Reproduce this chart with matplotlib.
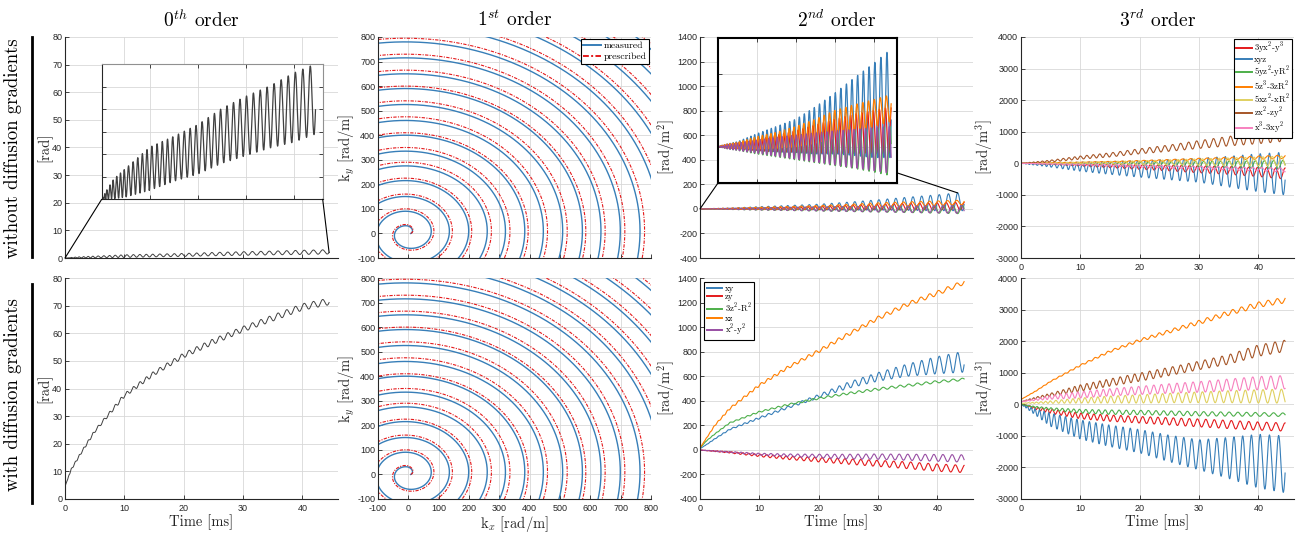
import numpy as np
import matplotlib
matplotlib.use("Agg")
import matplotlib.pyplot as plt
from matplotlib.patches import ConnectionPatch
from matplotlib.lines import Line2D

plt.rcParams['mathtext.fontset'] = 'cm'
plt.rcParams['font.family'] = 'Liberation Sans'
plt.rcParams['axes.unicode_minus'] = False

T_ENV = [0, 1, 2.5, 5, 10, 15, 20, 25, 30, 35, 40, 44.5]
# counted oscillation cycles up to those times
CYCLES = [0, 2.4, 4.7, 7.9, 13.1, 17.7, 21.8, 25.7, 29.4, 32.9, 36.3, 39.2]

# ---- 0th order (mid line and half peak-to-peak), [rad]
b0_off_mid = [0, 0.1, 0.23, 0.37, 0.68, 0.9, 1.11, 1.41, 1.63, 1.83, 2.04, 2.23]
b0_off_amp = [0, 0.1, 0.22, 0.32, 0.48, 0.5, 0.55, 0.61, 0.66, 0.69, 0.77, 0.78]
b0_on_mid = [4.5, 10.5, 16, 24.5, 37.5, 45.5, 52, 57, 61.5, 65.5, 69.5, 71.5]
b0_on_amp = [0, 0.3, 0.4, 0.5, 0.7, 0.8, 0.9, 1.0, 1.0, 1.1, 1.2, 1.2]

# ---- 1st order: spiral radius where each turn crosses the +ky axis [rad/m]
meas_r_at_y = [30, 90, 150, 215, 275, 335, 400, 460, 525, 590, 650, 715, 780,
               845, 910, 975, 1040, 1105, 1170]
pres_r_at_y = [35, 100, 160, 225, 290, 350, 410, 475, 540, 600, 665, 730, 795,
               860, 925, 990, 1055, 1120, 1185]
spiral_start_r = 8

# ---- 2nd order [rad/m^2]
so_names = ['xy', 'zy', '3z$^2$-R$^2$', 'xz', 'x$^2$-y$^2$']
so_colors = ['#377eb8', '#e41a1c', '#4daf4a', '#ff7f00', '#984ea3']
so_phase = [0.0, 0.25, 0.5, 0.1, 0.6]
so_off_mid = [
    [0, 1, 1.5, 2.5, 6.5, 10.5, 15, 22.5, 32, 41.5, 50, 60],
    [0, 0, 0.5, 1, 2, 4.5, 7, 10.5, 14.5, 18, 20.5, 23],
    [0, 0, -0.5, -0.5, -1, -1, -1.5, -2, -3, -3.5, -5, -6],
    [0, 1, 1.5, 2, 5.5, 9, 14, 21.5, 31, 39, 46.5, 53.5],
    [0, 0, 0, 0, 0, 0, -0.5, -1, -1.5, -2.5, -3.5, -4.5],
]
so_off_amp = [
    [0, 1, 2.5, 4.5, 11.5, 17.5, 23, 32.5, 42, 53.5, 65, 75],
    [0, 1, 2.5, 4, 8, 11.5, 15, 19.5, 23.5, 27, 29.5, 32],
    [0, 1, 2.5, 4.5, 9, 13, 16.5, 20, 23, 26.5, 30, 34],
    [0, 1, 2.5, 4, 8.5, 11, 14, 16.5, 19, 19, 18.5, 18.5],
    [0, 1, 3, 5, 9, 13, 16.5, 20, 23.5, 26.5, 29.5, 32.5],
]
so_on_mid = [
    [10, 40, 90, 167, 260, 350, 437, 527, 595, 650, 690, 718],
    [0, -5, -10, -20, -45, -65, -80, -95, -110, -125, -145, -155],
    [15, 70, 130, 220, 310, 370, 420, 460, 495, 525, 555, 575],
    [15, 90, 200, 336, 527, 677, 805, 942, 1073, 1187, 1277, 1365],
    [0, -5, -10, -18, -35, -45, -50, -55, -55, -60, -65, -70],
]
so_on_amp = [
    [0, 2, 3, 5, 8, 10, 15, 25, 35, 50, 70, 85],
    [0, 2, 4, 6, 10, 14, 18, 22, 25, 28, 30, 30],
    [0, 2, 3, 4, 6, 7, 8, 9, 10, 10, 10, 10],
    [0, 3, 5, 8, 10, 12, 14, 15, 16, 17, 18, 18],
    [0, 2, 3, 5, 8, 12, 15, 20, 22, 25, 28, 30],
]

# ---- 3rd order [rad/m^3]
to_names = ['3yx$^2$-y$^3$', 'xyz', '5yz$^2$-yR$^2$', '5z$^3$-3zR$^2$',
            '5xz$^2$-xR$^2$', 'zx$^2$-zy$^2$', 'x$^3$-3xy$^2$']
to_colors = ['#e41a1c', '#377eb8', '#4daf4a', '#ff7f00', '#e0d060', '#a65628', '#f781bf']
to_phase = [0.3, 0.0, 0.55, 0.15, 0.7, 0.4, 0.85]
to_off_mid = [
    [0, -5, -12, -25, -55, -85, -115, -150, -190, -225, -275, -325],
    [0, -12, -25, -50, -105, -145, -180, -200, -220, -265, -300, -325],
    [0, -2, -3, -5, -10, -15, -20, -25, -30, -35, -40, -45],
    [0, 3, 5, 12, 30, 45, 70, 95, 125, 150, 180, 205],
    [0, 3, 3, 5, 10, 15, 20, 30, 40, 50, 60, 70],
    [0, 10, 30, 70, 180, 265, 380, 480, 595, 700, 810, 900],
    [0, -3, -10, -20, -40, -62, -85, -110, -135, -160, -185, -210],
]
to_off_amp = [
    [0, 5, 8, 15, 35, 55, 75, 90, 110, 125, 145, 175],
    [0, 18, 35, 70, 145, 205, 260, 320, 380, 485, 600, 675],
    [0, 3, 8, 15, 30, 45, 60, 75, 90, 105, 120, 135],
    [0, 3, 5, 8, 10, 15, 20, 25, 35, 40, 50, 55],
    [0, 3, 8, 15, 30, 45, 60, 80, 100, 120, 140, 160],
    [0, 10, 20, 30, 50, 65, 80, 100, 125, 150, 190, 200],
    [0, 3, 5, 10, 20, 28, 35, 40, 45, 50, 55, 60],
]
to_on_mid = [
    [0, -50, -130, -220, -370, -440, -490, -540, -590, -640, -690, -720],
    [0, -100, -250, -490, -800, -1000, -1170, -1400, -1600, -1700, -1800, -1900],
    [0, -40, -90, -150, -220, -250, -260, -280, -300, -310, -320, -330],
    [150, 260, 420, 726, 1233, 1677, 2025, 2310, 2595, 2890, 3155, 3300],
    [30, 40, 50, 70, 120, 150, 170, 200, 220, 240, 250, 260],
    [80, 130, 200, 300, 515, 690, 860, 1040, 1230, 1420, 1700, 1850],
    [80, 110, 150, 220, 300, 380, 440, 500, 550, 610, 670, 700],
]
to_on_amp = [
    [0, 20, 40, 70, 90, 100, 105, 115, 125, 130, 130, 130],
    [0, 40, 100, 210, 300, 340, 370, 420, 475, 650, 850, 900],
    [0, 10, 25, 40, 60, 70, 70, 70, 70, 65, 60, 55],
    [0, 5, 10, 15, 25, 35, 45, 55, 65, 75, 85, 90],
    [0, 10, 20, 40, 80, 110, 130, 150, 170, 190, 210, 220],
    [0, 15, 30, 50, 100, 115, 130, 130, 135, 150, 180, 180],
    [0, 15, 30, 60, 100, 115, 130, 150, 170, 190, 210, 210],
]

t = np.linspace(T_ENV[0], T_ENV[-1], 5000)
cyc = np.interp(t, T_ENV, CYCLES)


def wave(mid, amp, phase=0.0):
    m = np.interp(t, T_ENV, mid)
    a = np.interp(t, T_ENV, amp)
    return m - a * np.cos(2 * np.pi * (cyc + phase))


def spiral(r_at_y):
    th_k = np.r_[0, np.pi / 2 + 2 * np.pi * np.arange(len(r_at_y))]
    r_k = np.r_[spiral_start_r, r_at_y]
    th = np.linspace(0, th_k[-1], 20000)
    r = np.interp(th, th_k, r_k)
    return r * np.cos(th), r * np.sin(th)


W, H = 1300, 535
fig = plt.figure(figsize=(13, 5.35), dpi=100)
col_left = [65, 378, 700, 1021]
rows = [(37, 258), (278, 499)]
SERIF = 'cmr10'
DARK = '#262626'


def px_axes(x0, y0, x1, y1):
    return fig.add_axes([x0 / W, 1 - y1 / H, (x1 - x0) / W, (y1 - y0) / H])


def add_ax(col, row):
    y0, y1 = rows[row]
    return px_axes(col_left[col], y0, col_left[col] + 273, y1)


def style(ax, xlim, ylim, xticks, yticks, xlabels=True, box=False):
    ax.set_xlim(xlim)
    ax.set_ylim(ylim)
    ax.set_xticks(xticks)
    ax.set_yticks(yticks)
    ax.grid(True, color='#d8d8d8', lw=0.6)
    ax.set_axisbelow(True)
    for s in ['top', 'right']:
        ax.spines[s].set_visible(box)
    for s in ax.spines.values():
        s.set_color(DARK)
        s.set_linewidth(0.8)
    ax.tick_params(direction='in', length=3, width=0.6, labelsize=6.5,
                   colors=DARK, pad=2, top=box, right=box)
    ax.tick_params(axis='x', pad=3.5)
    if not xlabels:
        ax.tick_params(labelbottom=False)


def ylab(ax, txt):
    ax.set_ylabel(txt, family=SERIF, fontsize=10.5, color=DARK, labelpad=0)


def legend(ax, loc, pad, size=6.3, spacing=0.0):
    leg = ax.legend(loc=loc, prop={'family': SERIF, 'size': size},
                    fancybox=False, framealpha=1, edgecolor='k',
                    borderpad=0.25, handlelength=1.8, labelspacing=spacing,
                    handletextpad=0.3, borderaxespad=pad)
    leg.get_frame().set_linewidth(0.8)
    for ln in leg.get_lines():
        ln.set_linewidth(1.4)
    return leg


time_ticks = [0, 10, 20, 30, 40]

# ================= 0th order =================
y0_off = wave(b0_off_mid, b0_off_amp)
y0_on = wave(b0_on_mid, b0_on_amp)

ax = add_ax(0, 0)
style(ax, (0, 46), (0, 80), time_ticks, range(0, 81, 10), xlabels=False)
ax.plot(t, y0_off, color='#404040', lw=0.7)
ylab(ax, '[rad]')
ins = px_axes(101.7, 64.3, 322.7, 199.3)
style(ins, (0, 46), (0, 3), time_ticks, np.arange(0, 3.01, 0.5), xlabels=False, box=True)
ins.tick_params(labelleft=False)
ins.spines['top'].set_color('#909090')
ins.spines['right'].set_color('#909090')
ins.plot(t, y0_off, color='#404040', lw=0.9)
for xa, xb in [((0, 0), (t[0], y0_off[0])), ((1, 0), (t[-1], y0_off[-1]))]:
    fig.add_artist(ConnectionPatch(xyA=xa, coordsA=ins.transAxes, xyB=xb,
                                   coordsB=ax.transData, color='k', lw=0.8))

ax = add_ax(0, 1)
style(ax, (0, 46), (0, 80), time_ticks, range(0, 81, 10))
ax.plot(t, y0_on, color='#404040', lw=0.7)
ylab(ax, '[rad]')
ax.set_xlabel('Time [ms]', family=SERIF, fontsize=10.5, color=DARK, labelpad=1)

# ================= 1st order =================
mx, my = spiral(meas_r_at_y)
px, py = spiral(pres_r_at_y)
k_ticks = range(-100, 801, 100)
for row in range(2):
    ax = add_ax(1, row)
    style(ax, (-100, 800), (-100, 800), k_ticks, k_ticks, xlabels=(row == 1))
    ax.plot(mx, my, color='#377eb8', lw=1.0, label='measured')
    ax.plot(px, py, color='#e41a1c', lw=0.8, ls=(0, (3, 1.2, 1, 1.2)), label='prescribed')
    ylab(ax, r'k$_y$ [rad/m]')
    if row == 0:
        legend(ax, 'upper right', 0.2, size=7, spacing=0.25)
    else:
        ax.set_xlabel(r'k$_x$ [rad/m]', family=SERIF, fontsize=10.5, color=DARK, labelpad=1)

# ================= 2nd order =================
so_off = [wave(m, a, p) for m, a, p in zip(so_off_mid, so_off_amp, so_phase)]
so_on = [wave(m, a, p) for m, a, p in zip(so_on_mid, so_on_amp, so_phase)]
so_ticks = range(-400, 1401, 200)

ax = add_ax(2, 0)
style(ax, (0, 46), (-400, 1400), time_ticks, so_ticks, xlabels=False)
for y, c in zip(so_off, so_colors):
    ax.plot(t, y, color=c, lw=0.8)
ylab(ax, '[rad/m$^2$]')
ins = px_axes(718, 38, 897, 183)
style(ins, (0, 46), (-50, 150), time_ticks, range(-50, 151, 50), xlabels=False, box=True)
ins.tick_params(labelleft=False)
for s in ins.spines.values():
    s.set_color('k')
    s.set_linewidth(1.5)
for y, c in zip(so_off, so_colors):
    ins.plot(t, y, color=c, lw=0.9)
imax = np.argmax(so_off[0])
for xa, xb in [((0, 0), (t[0], so_off[0][0])), ((1, 0.07), (t[imax], so_off[0][imax]))]:
    fig.add_artist(ConnectionPatch(xyA=xa, coordsA=ins.transAxes, xyB=xb,
                                   coordsB=ax.transData, color='k', lw=0.8))

ax = add_ax(2, 1)
style(ax, (0, 46), (-400, 1400), time_ticks, so_ticks)
for y, c, n in zip(so_on, so_colors, so_names):
    ax.plot(t, y, color=c, lw=0.8, label=n)
ylab(ax, '[rad/m$^2$]')
ax.set_xlabel('Time [ms]', family=SERIF, fontsize=10.5, color=DARK, labelpad=1)
legend(ax, 'upper left', 0.5)

# ================= 3rd order =================
to_off = [wave(m, a, p) for m, a, p in zip(to_off_mid, to_off_amp, to_phase)]
to_on = [wave(m, a, p) for m, a, p in zip(to_on_mid, to_on_amp, to_phase)]
to_ticks = range(-3000, 4001, 1000)

ax = add_ax(3, 0)
style(ax, (0, 46), (-3000, 4000), time_ticks, to_ticks)
for y, c, n in zip(to_off, to_colors, to_names):
    ax.plot(t, y, color=c, lw=0.8, label=n)
ylab(ax, '[rad/m$^3$]')
legend(ax, 'upper right', 0.2)

ax = add_ax(3, 1)
style(ax, (0, 46), (-3000, 4000), time_ticks, to_ticks)
for y, c in zip(to_on, to_colors):
    ax.plot(t, y, color=c, lw=0.8)
ylab(ax, '[rad/m$^3$]')
ax.set_xlabel('Time [ms]', family=SERIF, fontsize=10.5, color=DARK, labelpad=1)

# ================= titles and row labels =================
titles = [r'$0^{th}$ order', r'$1^{st}$ order', r'$2^{nd}$ order', r'$3^{rd}$ order']
for x0, txt in zip(col_left, titles):
    fig.text((x0 + 136.5) / W, 1 - 20 / H, txt, family=SERIF, fontsize=14,
             ha='center', va='center')

row_text = ['without diffusion gradients', 'with diffusion gradients']
row_mid = [148, 395]
bars = [(37, 257), (284, 503)]
for txt, ym, (b0, b1) in zip(row_text, row_mid, bars):
    fig.text(13 / W, 1 - ym / H, txt, family=SERIF, fontsize=13.5, rotation=90,
             ha='center', va='center')
    fig.add_artist(Line2D([32 / W, 32 / W], [1 - b0 / H, 1 - b1 / H],
                          color='k', lw=2))

fig.savefig('out.png', dpi=100)
